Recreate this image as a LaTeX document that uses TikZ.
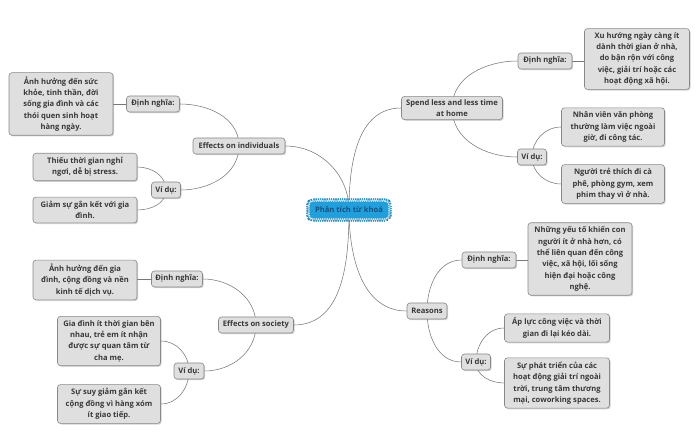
\documentclass[tikz,border=0pt]{standalone}
\usepackage{fontspec}
\setmainfont{Open Sans}
\usepackage{xcolor}
\usetikzlibrary{shadows,backgrounds}

\definecolor{boxfill}{HTML}{DFDFDF}
\definecolor{boxline}{HTML}{888888}
\definecolor{boxtext}{HTML}{383838}
\definecolor{linkgray}{HTML}{777777}
\definecolor{rootfill}{HTML}{1FA0DC}
\definecolor{rootrim}{HTML}{17628C}
\definecolor{roottext}{HTML}{1D4F7C}

\begin{document}
\begin{tikzpicture}[x=1pt,y=1pt,
	every node/.style={font=\fontsize{7.6}{11.3}\selectfont\bfseries, text=boxtext},
	topic/.style={draw=boxline, fill=boxfill, rounded corners=3pt, line width=0.6pt,
		align=center, inner xsep=3pt, inner ysep=3pt,
		drop shadow={shadow xshift=1.2pt, shadow yshift=-1.2pt, opacity=0.35}},
	tag/.style={topic, minimum height=16pt},
	textbox/.style={topic, inner ysep=4pt},
	rootnode/.style={fill=rootfill, rounded corners=4pt, text=roottext,
		minimum width=80pt, minimum height=18pt, inner xsep=3pt,
		preaction={draw=rootrim, line width=5.4pt},
		preaction={draw=rootfill, line width=4.2pt},
		draw=white, line width=1.2pt, dash pattern=on 1.2pt off 1pt,
		drop shadow={shadow xshift=1.2pt, shadow yshift=-1.2pt, opacity=0.5}},
	link/.style={draw=linkgray, line width=0.55pt}]
	\useasboundingbox (0,0) rectangle (700,433);
	\node [rootnode] (root) at (349,223) {Phân tích từ khoá};

	\node [tag, minimum width=92pt] (ind) at (239,287) {Effects on individuals};
	\node [tag, minimum width=53pt] (inddef) at (153,329) {Định nghĩa:};
	\node [textbox, minimum width=104pt] (inddefbox) at (61,329) {Ảnh hưởng đến sức\\khỏe, tinh thần, đời\\sống gia đình và các\\thói quen sinh hoạt\\hàng ngày.};
	\node [tag, minimum width=29pt] (index) at (166,243) {Ví dụ:};
	\node [textbox, minimum width=104pt] (indexa) at (85,266) {Thiếu thời gian nghỉ\\ngơi, dễ bị stress.};
	\node [textbox, minimum width=104pt] (indexb) at (85,223) {Giảm sự gắn kết với gia\\đình.};

	\node [tag, minimum width=101pt] (spend) at (452,325) {Spend less and less time\\at home};
	\node [tag, minimum width=54pt] (spenddef) at (545,372) {Định nghĩa:};
	\node [textbox, minimum width=105pt] (spenddefbox) at (637,374) {Xu hướng ngày càng ít\\dành thời gian ở nhà,\\do bận rộn với công\\việc, giải trí hoặc các\\hoạt động xã hội.};
	\node [tag, minimum width=29pt] (spendex) at (532,276) {Ví dụ:};
	\node [textbox, minimum width=103pt] (spendexa) at (613,306) {Nhân viên văn phòng\\thường làm việc ngoài\\giờ, đi công tác.};
	\node [textbox, minimum width=103pt] (spendexb) at (613,249) {Người trẻ thích đi cà\\phê, phòng gym, xem\\phim thay vì ở nhà.};

	\node [tag, minimum width=75pt] (soc) at (256,108) {Effects on society};
	\node [tag, minimum width=51pt] (socdef) at (177,154) {Định nghĩa:};
	\node [textbox, minimum width=104pt] (socdefbox) at (85,153) {Ảnh hưởng đến gia\\đình, cộng đồng và nền\\kinh tế dịch vụ.};
	\node [tag, minimum width=30pt] (socex) at (189,62) {Ví dụ:};
	\node [textbox, minimum width=103pt] (socexa) at (109,92) {Gia đình ít thời gian bên\\nhau, trẻ em ít nhận\\được sự quan tâm từ\\cha mẹ.};
	\node [textbox, minimum width=103pt] (socexb) at (109,29) {Sự suy giảm gắn kết\\cộng đồng vì hàng xóm\\ít giao tiếp.};

	\node [tag, minimum width=40pt] (rea) at (427,122) {Reasons};
	\node [tag, minimum width=54pt] (readef) at (489,173) {Định nghĩa:};
	\node [textbox, minimum width=104pt] (readefbox) at (580,174) {Những yếu tố khiến con\\người ít ở nhà hơn, có\\thể liên quan đến công\\việc, xã hội, lối sống\\hiện đại hoặc công\\nghệ.};
	\node [tag, minimum width=29pt] (reaex) at (476,71) {Ví dụ:};
	\node [textbox, minimum width=105pt] (reaexa) at (557,105) {Áp lực công việc và thời\\gian đi lại kéo dài.};
	\node [textbox, minimum width=105pt] (reaexb) at (557,50) {Sự phát triển của các\\hoạt động giải trí ngoài\\trời, trung tâm thương\\mại, coworking spaces.};

	\begin{scope}[on background layer]
	\draw [link] (root.center) to [out=90,in=0] (ind.east);
	\draw [link] (root.center) to [out=90,in=180] (spend.west);
	\draw [link] (root.center) to [out=-90,in=0] (soc.east);
	\draw [link] (root.center) to [out=-90,in=180] (rea.west);

	\draw [link] (ind.center) to [out=90,in=0] (inddef.east);
	\draw [link] (ind.center) to [out=-90,in=0] (index.east);
	\draw [link] (inddef.west) -- (inddefbox.east);
	\draw [link] (index.center) to [out=90,in=0] (indexa.east);
	\draw [link] (index.center) to [out=-90,in=0] (indexb.east);

	\draw [link] (spend.center) to [out=90,in=180] (spenddef.west);
	\draw [link] (spend.center) to [out=-90,in=180] (spendex.west);
	\draw [link] (spenddef.east) -- (spenddefbox.west |- spenddef.east);
	\draw [link] (spendex.center) to [out=90,in=180] (spendexa.west);
	\draw [link] (spendex.center) to [out=-90,in=180] (spendexb.west);

	\draw [link] (soc.center) to [out=90,in=0] (socdef.east);
	\draw [link] (soc.center) to [out=-90,in=0] (socex.east);
	\draw [link] (socdef.west) -- (socdefbox.east |- socdef.west);
	\draw [link] (socex.center) to [out=90,in=0] (socexa.east);
	\draw [link] (socex.center) to [out=-90,in=0] (socexb.east);

	\draw [link] (rea.center) to [out=90,in=180] (readef.west);
	\draw [link] (rea.center) to [out=-90,in=180] (reaex.west);
	\draw [link] (readef.east) -- (readefbox.west |- readef.east);
	\draw [link] (reaex.center) to [out=90,in=180] (reaexa.west);
	\draw [link] (reaex.center) to [out=-90,in=180] (reaexb.west);
	\end{scope}
\end{tikzpicture}
\end{document}
